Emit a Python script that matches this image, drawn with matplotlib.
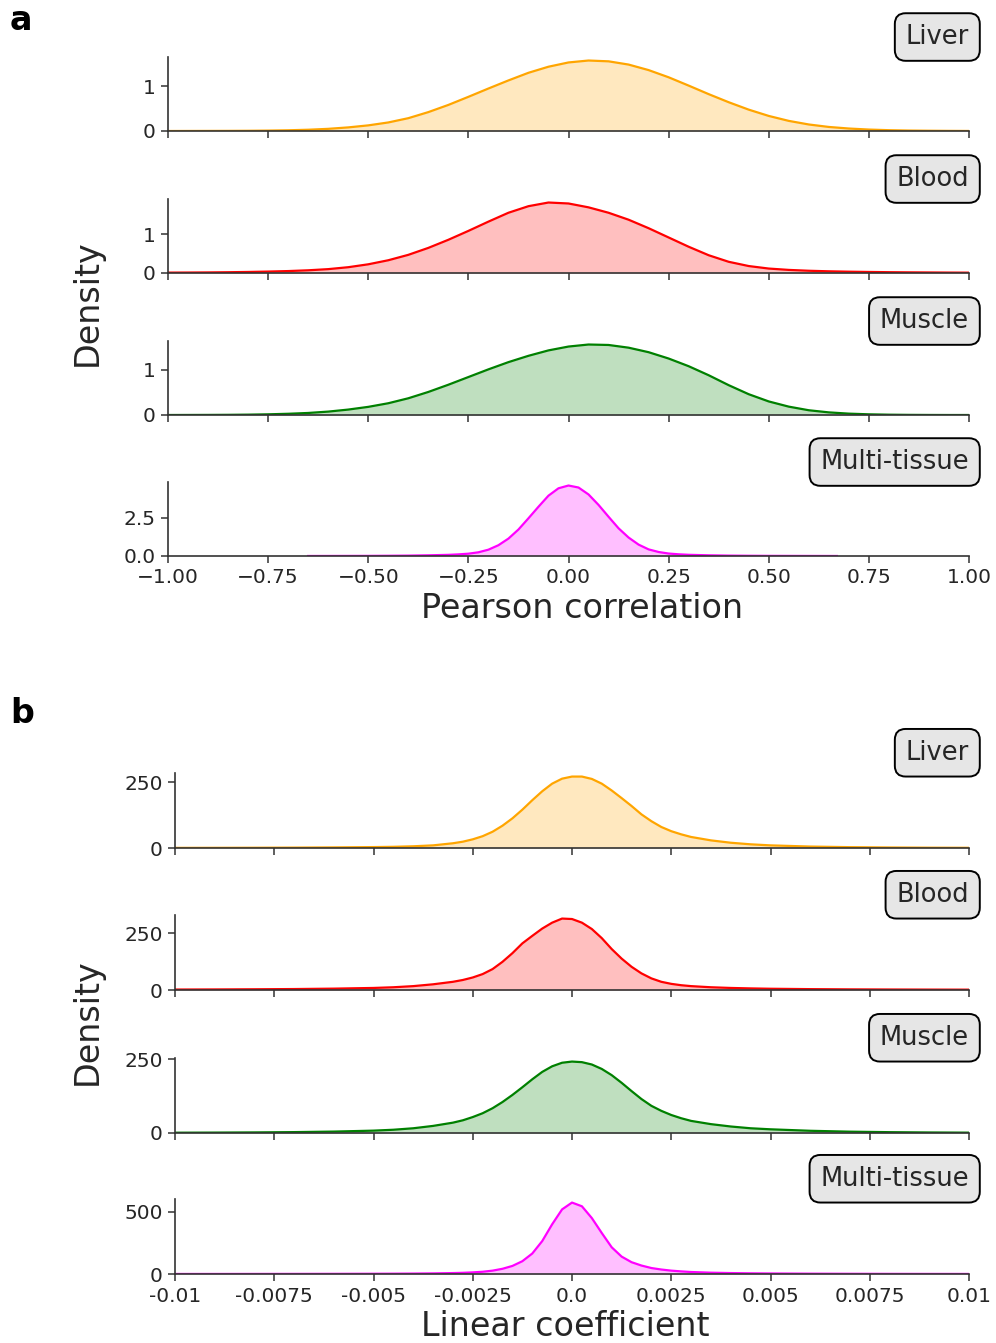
import matplotlib
matplotlib.use('Agg')
import matplotlib.pyplot as plt

plt.rcParams['font.family'] = 'DejaVu Sans'

W, H = 996, 1343
TEXT = '#262626'
SPINE = '#333333'

tissues = ['Liver', 'Blood', 'Muscle', 'Multi-tissue']
colors = ['orange', 'red', 'green', 'magenta']

# ---- panel a: Pearson correlation densities ----
pearson_x = [-1.00, -0.95, -0.90, -0.85, -0.80, -0.75, -0.70, -0.65, -0.60, -0.55,
             -0.50, -0.45, -0.40, -0.35, -0.30, -0.25, -0.20, -0.15, -0.10, -0.05,
             0.00, 0.05, 0.10, 0.15, 0.20, 0.25, 0.30, 0.35, 0.40, 0.45,
             0.50, 0.55, 0.60, 0.65, 0.70, 0.75, 0.80, 0.85, 0.90, 0.95, 1.00]
liver_r = [0.000, 0.001, 0.002, 0.003, 0.005, 0.009, 0.016, 0.028, 0.048, 0.080,
           0.125, 0.190, 0.285, 0.420, 0.580, 0.760, 0.945, 1.125, 1.295, 1.430,
           1.525, 1.568, 1.550, 1.478, 1.355, 1.195, 1.010, 0.820, 0.640, 0.475,
           0.335, 0.225, 0.145, 0.090, 0.055, 0.032, 0.018, 0.010, 0.006, 0.003, 0.001]
blood_r = [0.010, 0.012, 0.015, 0.020, 0.027, 0.037, 0.050, 0.070, 0.100, 0.150,
           0.225, 0.330, 0.470, 0.650, 0.860, 1.090, 1.330, 1.560, 1.730, 1.825,
           1.800, 1.700, 1.560, 1.380, 1.160, 0.920, 0.680, 0.460, 0.290, 0.180,
           0.115, 0.080, 0.058, 0.044, 0.034, 0.027, 0.021, 0.017, 0.014, 0.011, 0.009]
muscle_r = [0.000, 0.001, 0.002, 0.004, 0.008, 0.015, 0.027, 0.045, 0.075, 0.120,
            0.180, 0.260, 0.370, 0.510, 0.670, 0.840, 1.010, 1.170, 1.310, 1.430,
            1.515, 1.560, 1.550, 1.490, 1.390, 1.250, 1.080, 0.880, 0.660, 0.460,
            0.300, 0.185, 0.105, 0.058, 0.030, 0.015, 0.007, 0.003, 0.001, 0.000, 0.000]
multi_x = [-0.65, -0.6, -0.5, -0.45, -0.4, -0.35, -0.3, -0.275, -0.25, -0.225,
           -0.2, -0.175, -0.15, -0.125, -0.1, -0.075, -0.05, -0.025, 0.0, 0.025,
           0.05, 0.075, 0.1, 0.125, 0.15, 0.175, 0.2, 0.225, 0.25, 0.275,
           0.3, 0.35, 0.4, 0.45, 0.5, 0.6, 0.67]
multi_r = [0.001, 0.003, 0.008, 0.015, 0.025, 0.045, 0.075, 0.105, 0.15, 0.24,
           0.41, 0.70, 1.13, 1.72, 2.45, 3.20, 3.92, 4.40, 4.58, 4.45,
           4.00, 3.32, 2.55, 1.80, 1.20, 0.74, 0.43, 0.26, 0.16, 0.11,
           0.078, 0.045, 0.025, 0.015, 0.009, 0.004, 0.001]

pearson_xticks = [-1.0, -0.75, -0.5, -0.25, 0.0, 0.25, 0.5, 0.75, 1.0]
pearson_yticks = [[0, 1], [0, 1], [0, 1], [0.0, 2.5]]
pearson_ylabels = [['0', '1'], ['0', '1'], ['0', '1'], ['0.0', '2.5']]

# ---- panel b: linear coefficient densities ----
coef_x = [-0.010, -0.009, -0.008, -0.007, -0.006, -0.005, -0.0045, -0.004, -0.0035,
          -0.003, -0.00275, -0.0025, -0.00225, -0.002, -0.00175, -0.0015, -0.00125,
          -0.001, -0.00075, -0.0005, -0.00025, 0.0, 0.00025, 0.0005, 0.00075, 0.001,
          0.00125, 0.0015, 0.00175, 0.002, 0.00225, 0.0025, 0.00275, 0.003,
          0.0035, 0.004, 0.0045, 0.005, 0.006, 0.007, 0.008, 0.009, 0.010]
liver_c = [0.5, 0.7, 1.0, 1.5, 2.3, 3.5, 4.5, 6.5, 10,
           18, 24, 33, 45, 62, 85, 113, 146,
           182, 216, 245, 264, 272, 272, 263, 245, 219,
           190, 160, 128, 102, 80, 64, 52, 42,
           29, 20, 14, 10, 5.5, 3.2, 2.0, 1.2, 0.8]
blood_c = [2, 2.5, 3.2, 4.2, 6, 9, 12, 17, 25,
           36, 44, 55, 70, 92, 124, 162, 205,
           238, 270, 296, 314, 312, 296, 268, 228, 180,
           138, 102, 73, 51, 36, 27, 21, 17,
           12, 9, 7, 5.5, 3.8, 2.8, 2.2, 1.8, 1.5]
muscle_c = [1.0, 1.4, 2.0, 3.0, 4.8, 8, 11, 16, 24,
            35, 43, 54, 67, 84, 105, 129, 155,
            182, 207, 226, 238, 242, 240, 232, 217, 196,
            170, 142, 115, 92, 75, 61, 50, 41,
            30, 22, 16, 12.5, 7.5, 4.5, 2.8, 1.8, 1.2]
multi_c = [0.3, 0.4, 0.6, 0.9, 1.3, 2.0, 2.6, 3.5, 5,
           7.5, 9.5, 13, 18, 27, 42, 65, 103,
           165, 265, 400, 520, 575, 545, 450, 330, 215,
           140, 95, 68, 48, 36, 27, 21, 16,
           10.5, 7.5, 5.5, 4.2, 2.6, 1.7, 1.1, 0.7, 0.5]

coef_xticks = [-0.01, -0.0075, -0.005, -0.0025, 0.0, 0.0025, 0.005, 0.0075, 0.01]
coef_xlabels = ['-0.01', '-0.0075', '-0.005', '-0.0025', '0.0', '0.0025', '0.005', '0.0075', '0.01']
coef_yticks = [[0, 250], [0, 250], [0, 250], [0, 500]]


def rect(l, r, t, b):
    return [l / W, 1 - b / H, (r - l) / W, (b - t) / H]


def draw_panel(tops, left, right, height, xs, ys, xlim, xticks, xlabels, yticks, ylabels):
    axes = []
    for i in range(4):
        ax = fig.add_axes(rect(left, right, tops[i], tops[i] + height))
        ax.fill_between(xs[i], ys[i], 0, color=colors[i], alpha=0.25, lw=0)
        ax.plot(xs[i], ys[i], color=colors[i], lw=1.6)
        ax.set_xlim(*xlim)
        ax.set_ylim(0, max(ys[i]) * 1.05)
        ax.set_xticks(xticks)
        ax.set_yticks(yticks[i])
        if ylabels is not None:
            ax.set_yticklabels(ylabels[i])
        for s in ['top', 'right']:
            ax.spines[s].set_visible(False)
        for s in ['left', 'bottom']:
            ax.spines[s].set_color(SPINE)
            ax.spines[s].set_linewidth(1.2)
        ax.tick_params(direction='out', length=5, width=1.1, color=SPINE,
                       labelsize=14.5, labelcolor=TEXT, pad=4)
        if i < 3:
            ax.tick_params(axis='x', labelbottom=False)
        elif xlabels is not None:
            ax.set_xticklabels(xlabels)
        ax.text(1.0, 1.27, tissues[i], transform=ax.transAxes, ha='right', va='center',
                fontsize=18.5, color=TEXT,
                bbox=dict(boxstyle='round,pad=0.42', fc='#e6e6e6', ec='black', lw=1.4))
        axes.append(ax)
    return axes


fig = plt.figure(figsize=(W / 100, H / 100), dpi=100)

draw_panel([57, 199, 341, 482], 168, 969, 74,
           [pearson_x, pearson_x, pearson_x, multi_x],
           [liver_r, blood_r, muscle_r, multi_r],
           (-1, 1), pearson_xticks, None, pearson_yticks, pearson_ylabels)

draw_panel([773, 915, 1058, 1199], 175, 969, 75,
           [coef_x] * 4,
           [liver_c, blood_c, muscle_c, multi_c],
           (-0.01, 0.01), coef_xticks, coef_xlabels, coef_yticks, None)

fig.text(10 / W, 1 - 20 / H, 'a', fontsize=24, fontweight='bold', va='center', ha='left')
fig.text(10 / W, 1 - 714 / H, 'b', fontsize=24, fontweight='bold', va='center', ha='left')

fig.text(87 / W, 1 - 303 / H, 'Density', rotation=90, fontsize=24, color=TEXT,
         ha='center', va='center')
fig.text(87 / W, 1 - 1022 / H, 'Density', rotation=90, fontsize=24, color=TEXT,
         ha='center', va='center')
fig.text(582 / W, 1 - 609 / H, 'Pearson correlation', fontsize=24, color=TEXT,
         ha='center', va='center')
fig.text(565 / W, 1 - 1326 / H, 'Linear coefficient', fontsize=24, color=TEXT,
         ha='center', va='center')

fig.savefig('out.png', dpi=100)
